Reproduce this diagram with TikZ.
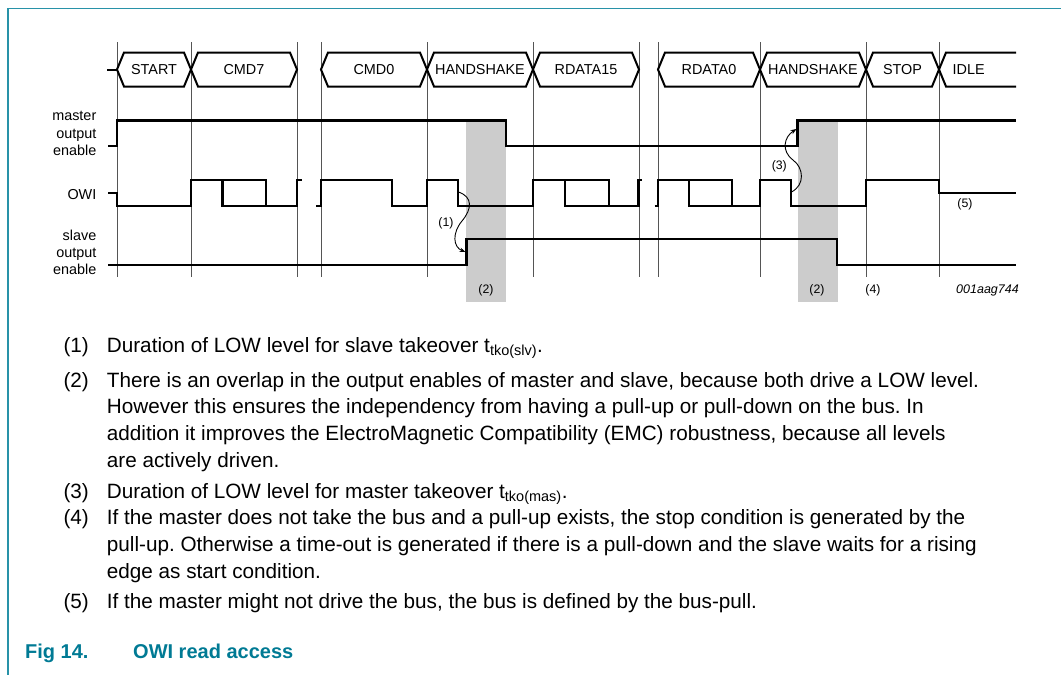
\documentclass[tikz,border=0pt]{standalone}
\usepackage{fontspec}
\setmainfont{Liberation Sans}
\usetikzlibrary{arrows.meta}
\definecolor{framec}{RGB}{40,146,168}
\definecolor{captc}{RGB}{0,122,148}
\definecolor{shadec}{RGB}{204,204,204}
\definecolor{gridc}{RGB}{85,85,85}
\newcommand\busseg[4]{%
  \draw[bus] (#1,69.5) -- ({#1+7},52.5) -- ({#2-7},52.5) -- (#2,69.5) -- ({#2-7},86.5) -- ({#1+7},86.5) -- cycle;
  \node[lbl] (#4) at ({(#1+#2)/2},69.5) {#3};}
\frenchspacing
\begin{document}
\begin{tikzpicture}[x=1pt,y=-1pt,
  wave/.style={line width=2.3pt, line join=miter},
  gridline/.style={gridc, line width=0.9pt},
  bus/.style={line width=2pt, line join=miter},
  lbl/.style={font=\fontsize{14.4}{17.3}\selectfont, inner sep=0},
  small/.style={font=\fontsize{12.3}{14}\selectfont, inner sep=0, anchor=base},
  body/.style={font=\fontsize{20.7}{26.7}\selectfont, inner sep=0, anchor=base west},
  capt/.style={font=\fontsize{20}{24}\selectfont\bfseries, text=captc, inner sep=0, anchor=base west},
  note/.style={line width=0.9pt, -{Stealth[length=6pt,width=4.5pt]}}]
\useasboundingbox (0,0) rectangle (1061,675);
% frame
\draw[framec, line width=1.3pt] (8,675) -- (8,8.5) -- (1061,8.5);
% shaded overlap zones
\fill[shadec] (466,120) rectangle (506,302);
\fill[shadec] (797.5,120) rectangle (837.5,302);
% grid lines
\foreach \gx in {117,191,297,321,427,533,639,658,760,866,939}
  \draw[gridline] (\gx,42) -- (\gx,277);
% bus row
\draw[bus] (107,69.5) -- (117,69.5);
\busseg{117}{191}{START}{bstart}
\busseg{191}{297}{CMD7}{bcmd7}
\busseg{321}{427}{CMD0}{bcmd0}
\busseg{427}{533}{HANDSHAKE}{bhs1}
\busseg{533}{639}{RDATA15}{brd15}
\busseg{658}{760}{RDATA0}{brd0}
\busseg{760}{866}{HANDSHAKE}{bhs2}
\busseg{866}{939}{STOP}{bstop}
\draw[bus] (1016,52.5) -- (946,52.5) -- (939,69.5) -- (946,86.5) -- (1016,86.5);
\node[lbl, anchor=west] (bidle) at (952.5,69.5) {IDLE};
% signal names
\node[lbl, align=right, anchor=east] (nmoe) at (96.5,133.5) {master\\output\\enable};
\node[lbl, anchor=east] (nowi) at (96.5,194.3) {OWI};
\node[lbl, align=right, anchor=east] (nsoe) at (96.5,252.5) {slave\\output\\enable};
% master output enable
\draw[wave] (108,146) -- (117,146) -- (117,120.5) -- (506,120.5) -- (506,146) -- (797.5,146) -- (797.5,120.5) -- (1016,120.5);
% OWI
\draw[wave] (108,193.3) -- (117,193.3) -- (117,205.7) -- (191,205.7) -- (191,180.3) -- (266,180.3) -- (266,205.7) -- (297,205.7) -- (297,180.3) -- (301.5,180.3);
\draw[wave] (222.5,180.3) -- (222.5,205.7) -- (266,205.7);
\draw[wave] (316,205.7) -- (321,205.7) -- (321,180.3) -- (392.3,180.3) -- (392.3,205.7) -- (427.3,205.7) -- (427.3,180.3) -- (458,180.3) -- (458,205.7) -- (533,205.7) -- (533,180.3) -- (609,180.3) -- (609,205.7) -- (638.5,205.7) -- (638.5,180.3) -- (641.5,180.3);
\draw[wave] (565,180.3) -- (565,205.7) -- (609,205.7);
\draw[wave] (654.5,205.7) -- (658.3,205.7) -- (658.3,180.3) -- (732.3,180.3) -- (732.3,205.7) -- (760,205.7) -- (760,180.3) -- (790.7,180.3) -- (790.7,205.7) -- (866,205.7) -- (866,180.3) -- (939,180.3) -- (939,193.3) -- (1016,193.3);
\draw[wave] (688.7,180.3) -- (688.7,205.7) -- (732.3,205.7);
% slave output enable
\draw[wave] (108,265) -- (466.5,265) -- (466.5,239) -- (837,239) -- (837,265) -- (1016,265);
% takeover arrows
\coordinate (owifall1) at (458.5,192);
\coordinate (soerise) at (465.5,252);
\coordinate (owifall2) at (791.5,192);
\coordinate (moerise) at (796.5,129);
\draw[note] (owifall1) .. controls (473,197) and (472,209) .. (462,221) .. controls (452,233) and (453,247) .. (soerise);
\draw[note] (owifall2) .. controls (805,185) and (804,168) .. (793,160) .. controls (781,151) and (784,137) .. (moerise);
% small labels
\node[small] (l1) at (446,226) {(1)};
\node[small] (l3) at (779.3,169.5) {(3)};
\node[small] (l5) at (965,207.5) {(5)};
\node[small] (l2a) at (486,293) {(2)};
\node[small] (l2b) at (817,293) {(2)};
\node[small] (l4) at (873,293) {(4)};
\node[small, anchor=base east, font=\fontsize{12.5}{14}\selectfont\itshape] (fid) at (1019,293) {001aag744};
% notes
\node[body] (n1) at (63.3,352) {(1)};
\node[body] (t1) at (106.7,352) {Duration of LOW level for slave takeover t\textsubscript{tko(slv)}.};
\node[body] (n2) at (63.3,387) {(2)};
\node[body] (t2a) at (106.7,387) {There is an overlap in the output enables of master and slave, because both drive a LOW level.};
\node[body] (t2b) at (106.7,413.5) {However this ensures the independency from having a pull-up or pull-down on the bus. In};
\node[body] (t2c) at (106.7,440) {addition it improves the ElectroMagnetic Compatibility (EMC) robustness, because all levels};
\node[body] (t2d) at (106.7,467) {are actively driven.};
\node[body] (n3) at (63.3,498) {(3)};
\node[body] (t3) at (106.7,498) {Duration of LOW level for master takeover t\textsubscript{tko(mas)}.};
\node[body] (n4) at (63.3,524.5) {(4)};
\node[body] (t4a) at (106.7,524.5) {If the master does not take the bus and a pull-up exists, the stop condition is generated by the};
\node[body] (t4b) at (106.7,551) {pull-up. Otherwise a time-out is generated if there is a pull-down and the slave waits for a rising};
\node[body] (t4c) at (106.7,578) {edge as start condition.};
\node[body] (n5) at (63.3,608.5) {(5)};
\node[body] (t5) at (106.7,608.5) {If the master might not drive the bus, the bus is defined by the bus-pull.};
% caption
\node[capt] (cfig) at (25,658) {Fig 14.};
\node[capt] (ctitle) at (133,658) {OWI read access};
\end{tikzpicture}
\end{document}
